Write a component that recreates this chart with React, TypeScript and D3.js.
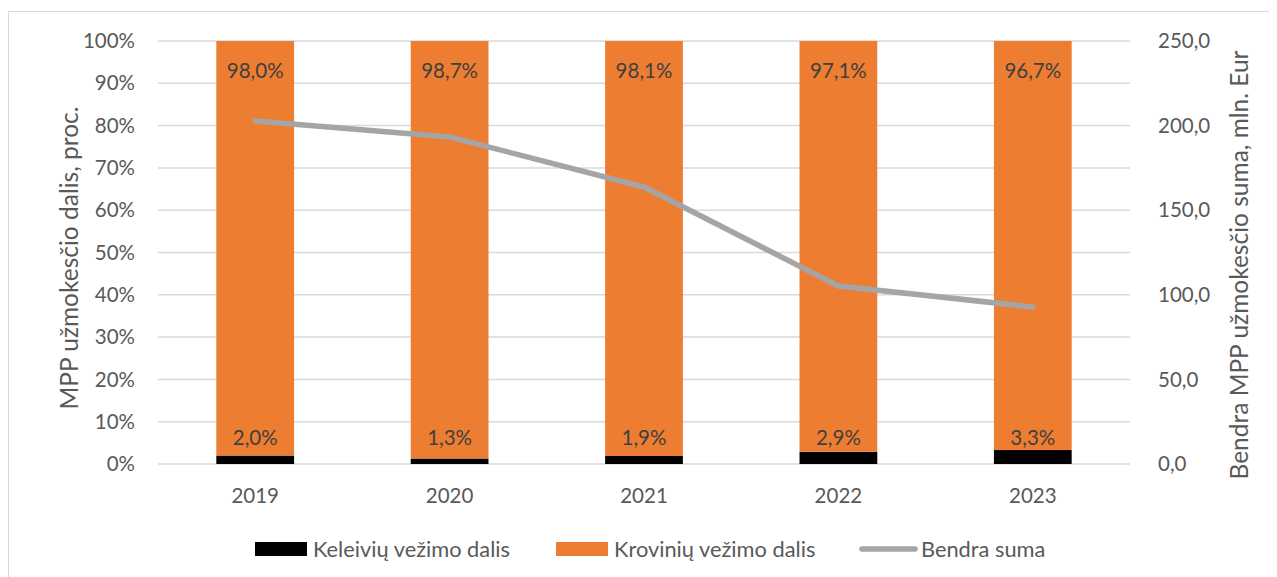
import React from 'react';
import * as d3 from 'd3';

const years = ['2019', '2020', '2021', '2022', '2023'];
const passengerShare = [2.0, 1.3, 1.9, 2.9, 3.3];
const freightShare = [98.0, 98.7, 98.1, 97.1, 96.7];
const totalSum = [202.7, 193.3, 163.7, 105.2, 92.8];
const leftTicks = [0, 10, 20, 30, 40, 50, 60, 70, 80, 90, 100];
const rightTicks = [0, 50, 100, 150, 200, 250];
const legendItems = ['Keleivių vežimo dalis', 'Krovinių vežimo dalis', 'Bendra suma'];

const W = 1269;
const H = 569;
const font = 'Lato, "Noto Sans", sans-serif';
const textColor = '#595959';
const fs = 20.5;

export default function App() {
  const left = 150;
  const right = 1122;
  const top = 33;
  const bottom = 456;

  const x = d3.scaleBand().domain(years).range([left, right]).paddingInner(0.6).paddingOuter(0.3);
  const yPct = d3.scaleLinear().domain([0, 100]).range([bottom, top]);
  const ySum = d3.scaleLinear().domain([0, 250]).range([bottom, top]);
  const fmt = (v: number) => v.toFixed(1).replace('.', ',');

  const line = d3.line<number>()
    .x((_, i) => (x(years[i]) as number) + x.bandwidth() / 2)
    .y(d => ySum(d));

  const legendY = 541;

  return (
    <svg width={W} height={H} style={{ display: 'block' }}>
      <rect x={0.5} y={3.5} width={W + 5} height={H + 5} fill="#fff" stroke="#D9D9D9" />
      {leftTicks.map(t => (
        <g key={t}>
          <line x1={left} x2={right} y1={yPct(t)} y2={yPct(t)} stroke="#D9D9D9" strokeWidth={1.5} />
          <text x={left - 23} y={yPct(t)} dy="0.35em" textAnchor="end" fontFamily={font} fontSize={fs} fill={textColor}>{t}%</text>
        </g>
      ))}
      {rightTicks.map(t => (
        <text key={t} x={right + 28} y={ySum(t)} dy="0.35em" textAnchor="start" fontFamily={font} fontSize={fs} fill={textColor}>{fmt(t)}</text>
      ))}
      {years.map((yr, i) => {
        const bx = x(yr) as number;
        const cx = bx + x.bandwidth() / 2;
        return (
          <g key={yr}>
            <rect x={bx} y={yPct(passengerShare[i])} width={x.bandwidth()} height={bottom - yPct(passengerShare[i])} fill="#000" />
            <rect x={bx} y={yPct(passengerShare[i] + freightShare[i])} width={x.bandwidth()} height={yPct(passengerShare[i]) - yPct(passengerShare[i] + freightShare[i])} fill="#ED7D31" />
            <text x={cx} y={yPct(100) + 30} dy="0.35em" textAnchor="middle" fontFamily={font} fontSize={fs} fill="#404040">{fmt(freightShare[i])}%</text>
            <text x={cx} y={bottom - 26} dy="0.35em" textAnchor="middle" fontFamily={font} fontSize={fs} fill="#404040">{fmt(passengerShare[i])}%</text>
            <text x={cx} y={bottom + 32} dy="0.35em" textAnchor="middle" fontFamily={font} fontSize={fs} fill={textColor}>{yr}</text>
          </g>
        );
      })}
      <path d={line(totalSum) || ''} fill="none" stroke="#A5A5A5" strokeWidth={5.5} strokeLinecap="round" strokeLinejoin="round" />
      <text transform="translate(61,250) rotate(-90)" dy="0.35em" textAnchor="middle" fontFamily={font} fontSize={24.5} fill={textColor}>MPP užmokesčio dalis, proc.</text>
      <text transform="translate(1231,257) rotate(-90)" dy="0.35em" textAnchor="middle" fontFamily={font} fontSize={24.5} fill={textColor}>Bendra MPP užmokesčio suma, mln. Eur</text>
      <g fontFamily={font} fontSize={21.8} fill={textColor}>
        <rect x={247} y={legendY - 7} width={52} height={14} fill="#000" />
        <text x={305} y={legendY} dy="0.35em">{legendItems[0]}</text>
        <rect x={548} y={legendY - 7} width={52} height={14} fill="#ED7D31" />
        <text x={606} y={legendY} dy="0.35em">{legendItems[1]}</text>
        <line x1={854} x2={907} y1={legendY} y2={legendY} stroke="#A5A5A5" strokeWidth={5.5} strokeLinecap="round" />
        <text x={913} y={legendY} dy="0.35em">{legendItems[2]}</text>
      </g>
    </svg>
  );
}
